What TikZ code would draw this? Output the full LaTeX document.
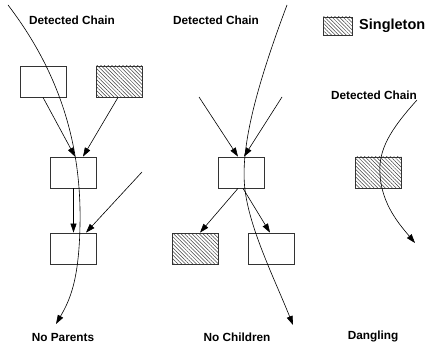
\documentclass[tikz,border=0pt]{standalone}
\usepackage{fontspec}
\setmainfont{Liberation Sans}
\usetikzlibrary{arrows.meta,patterns.meta}
\begin{document}
\begin{tikzpicture}[x=1pt,y=-1pt,
  lbl/.style={font=\bfseries\fontsize{11.8}{13}\selectfont, inner sep=0pt},
  box/.style={draw=black!80, line width=0.8pt, minimum width=46pt, minimum height=31pt, inner sep=0pt},
  hbox/.style={box, pattern={Lines[angle=-45,distance=2.6pt,line width=0.5pt]}, pattern color=black!75},
  arr/.style={line width=0.6pt, -{Triangle[length=9pt,width=6pt]}},
  chain/.style={line width=0.6pt},
  chainarr/.style={chain, -{Triangle[length=9pt,width=6pt]}}]
\useasboundingbox (0,0) rectangle (427,347);
% labels
\node[lbl] (dc1) at (72,20) {Detected Chain};
\node[lbl] (dc2) at (216,20) {Detected Chain};
\node[lbl] (dc3) at (374,95) {Detected Chain};
\node[lbl] (np) at (63,337) {No Parents};
\node[lbl] (nc) at (237,337) {No Children};
\node[lbl] (dg) at (373,336) {Dangling};
% legend
\node[hbox, minimum width=29pt, minimum height=18pt] (leg) at (337.5,26) {};
\node[lbl, font=\bfseries\fontsize{14.5}{16}\selectfont, anchor=west] (legt) at (359,26) {Singleton};
% left group
\node[box] (a) at (43,81.5) {};
\node[hbox] (b) at (119,81.5) {};
\node[box] (c) at (73.5,172.5) {};
\node[box] (d) at (73.5,248.5) {};
\coordinate (lsrc) at (142,172);
% middle group
\node[box] (e) at (241,172.5) {};
\node[hbox] (f) at (195.5,248.5) {};
\node[box] (g) at (271,248.5) {};
\coordinate (m1) at (199,97);
\coordinate (m2) at (282,97);
% right
\node[hbox] (h) at (378,172.5) {};
% chain endpoints
\coordinate (l0) at (8,5);
\coordinate (l1) at (80,225);
\coordinate (l2) at (56,324);
\coordinate (c0) at (287,5);
\coordinate (c1) at (245,190);
\coordinate (c2) at (293,325);
\coordinate (r0) at (417,100);
\coordinate (r1) at (380,175);
\coordinate (r2) at (415,243);
% connectors left
\draw[arr] (a.south) -- ([xshift=1.5pt]c.north);
\draw[arr] ([xshift=-1pt]b.south) -- ([xshift=9.5pt]c.north);
\draw[arr] (c.south) -- (d.north);
\draw[arr] (lsrc) -- ([xshift=12.5pt]d.north);
% connectors middle
\draw[arr] (m1) -- ([xshift=-3pt]e.north);
\draw[arr] (m2) -- ([xshift=3pt]e.north);
\draw[arr] ([xshift=-3pt]e.south) -- ([xshift=4.5pt]f.north);
\draw[arr] ([xshift=2pt]e.south) -- ([xshift=-1pt]g.north);
% chains
\draw[chainarr] (l0) .. controls (50,60) and (82,130) .. (l1) .. controls (79,280) and (70,300) .. (l2);
\draw[chainarr] (c0) .. controls (255,90) and (240,150) .. (c1) .. controls (250,230) and (275,280) .. (c2);
\draw[chainarr] (r0) .. controls (390,130) and (378,150) .. (r1) .. controls (382,205) and (400,225) .. (r2);
\end{tikzpicture}
\end{document}
